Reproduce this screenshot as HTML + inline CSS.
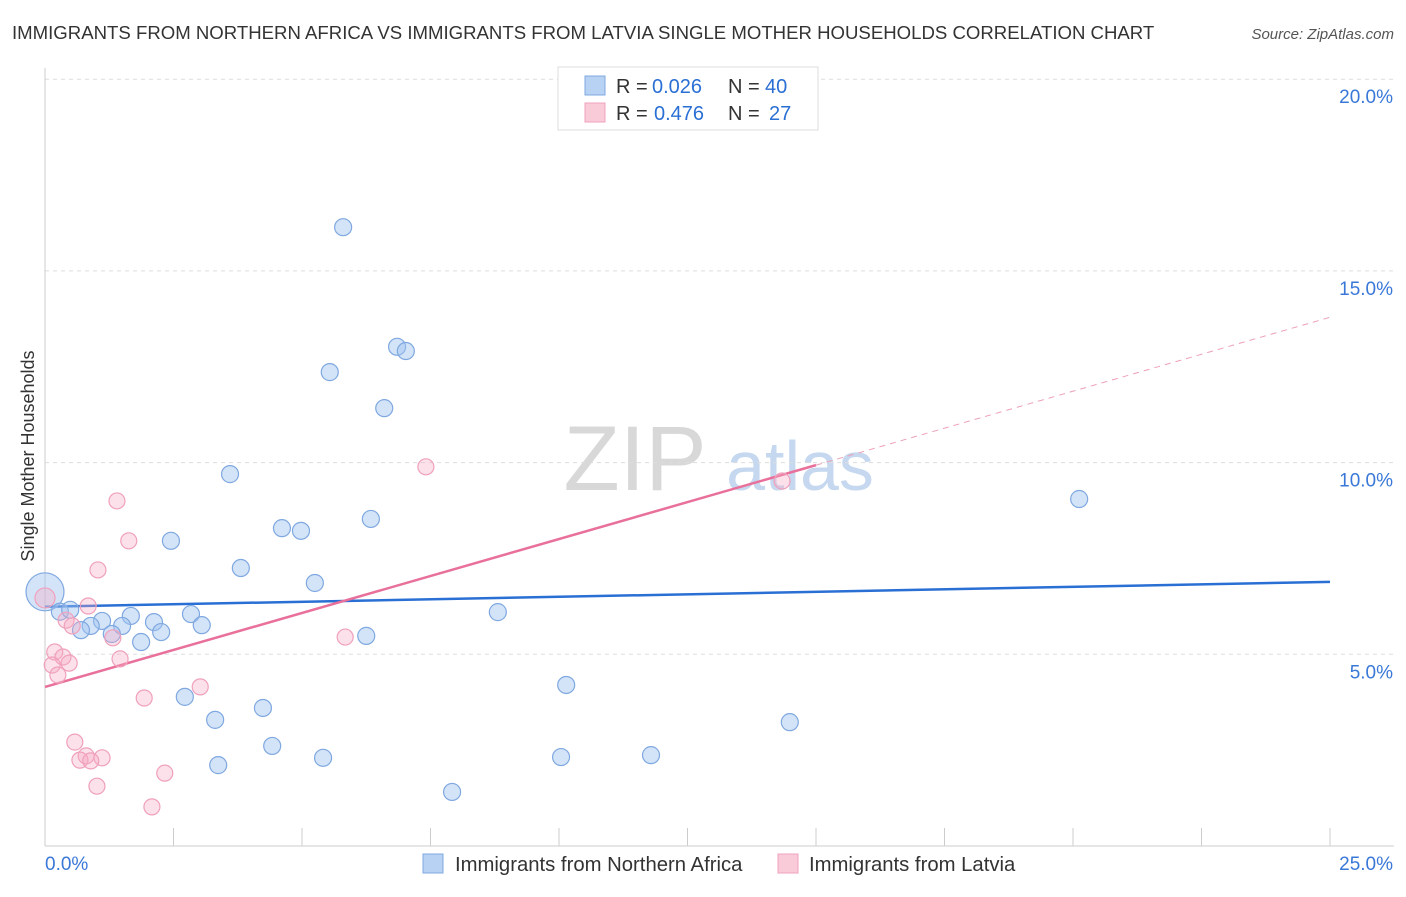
<!DOCTYPE html>
<html><head><meta charset="utf-8"><style>
body{margin:0;background:#fff;font-family:"Liberation Sans",sans-serif}
svg text{font-family:"Liberation Sans",sans-serif}
</style></head><body>
<svg id="chart" width="1406" height="892" xmlns="http://www.w3.org/2000/svg">
<text x="12" y="39" font-size="18.6" fill="#333">IMMIGRANTS FROM NORTHERN AFRICA VS IMMIGRANTS FROM LATVIA SINGLE MOTHER HOUSEHOLDS CORRELATION CHART</text>
<text x="1394" y="39" font-size="15" fill="#555" text-anchor="end" font-style="italic">Source: ZipAtlas.com</text>
<text transform="translate(34,456) rotate(-90)" font-size="18" fill="#333" text-anchor="middle">Single Mother Households</text>
<g>
<text x="635" y="490" font-size="92" fill="#d8d8d8" font-family="Liberation Serif" text-anchor="middle">ZIP</text>
<text x="800" y="490" font-size="70" fill="#c5d8ef" text-anchor="middle">atlas</text>
</g>
<g id="grid"></g><g id="axes"></g><g id="lines"></g><g id="points"></g>
<g>
<rect x="558" y="67" width="260" height="63" fill="#fff" stroke="#ddd"/>
<rect x="585" y="76" width="20" height="19" fill="#b8d2f4" stroke="#7fa8e0"/>
<text x="616" y="93" font-size="20" fill="#333">R =</text>
<text x="652" y="93" font-size="20" fill="#2a6fd4">0.026</text>
<text x="728" y="93" font-size="20" fill="#333">N =</text>
<text x="765" y="93" font-size="20" fill="#2a6fd4">40</text>
<rect x="585" y="103" width="20" height="19" fill="#f9cbd9" stroke="#f0a0bc"/>
<text x="616" y="120" font-size="20" fill="#333">R =</text>
<text x="654" y="120" font-size="20" fill="#2a6fd4">0.476</text>
<text x="728" y="120" font-size="20" fill="#333">N =</text>
<text x="769" y="120" font-size="20" fill="#2a6fd4">27</text>
</g>
<g>
<rect x="423" y="854" width="20" height="19" fill="#b8d2f4" stroke="#7fa8e0"/>
<text x="455" y="871" font-size="20.3" fill="#333">Immigrants from Northern Africa</text>
<rect x="778" y="854" width="20" height="19" fill="#f9cbd9" stroke="#f0a0bc"/>
<text x="809" y="871" font-size="20.3" fill="#333">Immigrants from Latvia</text>
</g>
</svg>
<script>
const blueX=[5.80,6.85,7.02,5.54,6.60,3.60,6.34,4.61,4.98,2.45,3.81,5.25,20.12,8.81,0,0.29,0.49,1.11,1.67,2.12,2.84,0.89,0.70,1.50,1.30,1.87,2.26,3.05,6.25,10.14,2.72,4.24,3.31,14.49,4.42,5.41,10.04,11.79,3.37,7.92];
const blueY=[16.14,13.02,12.91,12.36,11.42,9.70,8.53,8.29,8.22,7.96,7.25,6.86,9.05,6.10,6.63,6.11,6.16,5.87,6.00,5.84,6.05,5.74,5.63,5.74,5.53,5.32,5.58,5.76,5.48,4.20,3.89,3.60,3.29,3.23,2.61,2.30,2.32,2.37,2.11,1.41];
const pinkX=[0,1.40,7.41,1.63,1.03,0.84,0.41,0.53,1.32,1.46,0.19,0.35,0.47,0.14,0.25,14.34,5.84,3.02,1.93,0.58,0.80,1.11,0.68,0.89,2.33,1.01,2.08];
const pinkY=[6.47,9.00,9.89,7.96,7.20,6.26,5.89,5.74,5.43,4.88,5.06,4.93,4.77,4.72,4.46,9.52,5.45,4.15,3.86,2.71,2.35,2.30,2.24,2.22,1.90,1.56,1.02];
const yTicks=[5,10,15,20];
const yTickLabels=["5.0%","10.0%","15.0%","20.0%"];
const xTickLabels=["0.0%","25.0%"];
const blueLine=[6.24,6.89];
const pinkLine=[4.15,13.79];
const pinkSolidEnd=15.0;
const NS="http://www.w3.org/2000/svg";
const sx=v=>45+v*51.4, sy=v=>846-v*38.34;
function mk(tag,attrs,parent){const e=document.createElementNS(NS,tag);for(const k in attrs)e.setAttribute(k,attrs[k]);document.getElementById(parent).appendChild(e);return e;}
yTicks.forEach((t,i)=>{
 const g=mk('line',{x1:45,x2:1394,y1:sy(t),y2:sy(t),stroke:'#ddd','stroke-dasharray':'4,4'},'grid');
 
 
 const l=mk('text',{x:1393,y:sy(t)+24,'font-size':19,fill:'#3a78d8','text-anchor':'end'},'axes');
 l.textContent=yTickLabels[i];
 
 
});
const ax=mk('line',{x1:45,x2:45,y1:68,y2:846,stroke:'#ccc'},'axes');


const bx=mk('line',{x1:45,x2:1394,y1:846,y2:846,stroke:'#ccc'},'axes');


for(let i=0;i<=10;i++){
 const t=mk('line',{x1:sx(i*2.5),x2:sx(i*2.5),y1:828,y2:846,stroke:'#ccc'},'axes');
 
 
}
[[0,'start',45],[25,'end',1393]].forEach((d,i)=>{
 const l=mk('text',{x:d[2],y:870,'font-size':19,fill:'#3a78d8','text-anchor':d[1]},'axes');
 l.textContent=xTickLabels[i];
 
 
});
const pl=x=>pinkLine[0]+(pinkLine[1]-pinkLine[0])*x/25;
const bl=mk('line',{x1:sx(0),y1:sy(blueLine[0]),x2:sx(25),y2:sy(blueLine[1]),stroke:'#2a6fd4','stroke-width':2.5},'lines');


const ps=mk('line',{x1:sx(0),y1:sy(pl(0)),x2:sx(pinkSolidEnd),y2:sy(pl(pinkSolidEnd)),stroke:'#e8709a','stroke-width':2.5},'lines');


const pd=mk('line',{x1:sx(pinkSolidEnd),y1:sy(pl(pinkSolidEnd)),x2:sx(25),y2:sy(pl(25)),stroke:'#eda0b8','stroke-width':1,'stroke-dasharray':'6,5'},'lines');


blueX.forEach((x,i)=>{
 const c=mk('circle',{cx:sx(x),cy:sy(blueY[i]),r:(x===0?19:8.5),fill:'rgba(160,196,240,0.45)',stroke:'#7fa8e0','stroke-width':1.2},'points');
 
 
});
pinkX.forEach((x,i)=>{
 const c=mk('circle',{cx:sx(x),cy:sy(pinkY[i]),r:(x===0?10:8),fill:'rgba(245,170,195,0.35)',stroke:'#f0a0bc','stroke-width':1.2},'points');
 
 
});
</script>
</body></html>
